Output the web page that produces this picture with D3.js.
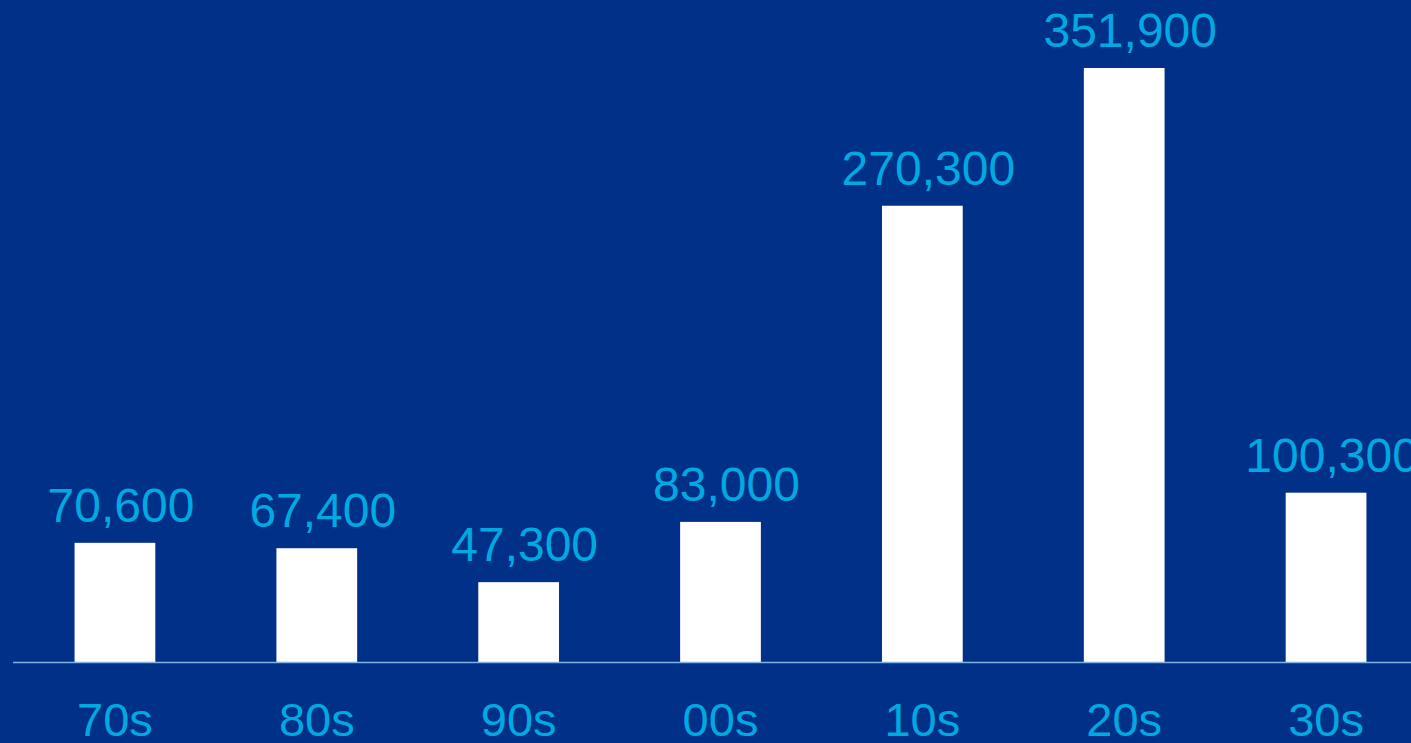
<!DOCTYPE html>
<html><head><meta charset="utf-8">
<script src="https://cdn.jsdelivr.net/npm/d3@7"></script>
<style>html,body{margin:0;padding:0;background:#003087;overflow:hidden}</style>
</head><body>
<svg id="c" width="1411" height="743"></svg>
<script>
const categories = ["70s","80s","90s","00s","10s","20s","30s"];
const values = [70600, 67400, 47300, 83000, 270300, 351900, 100300];

const W = 1411, H = 743;
const svg = d3.select("#c");
svg.append("rect").attr("width", W).attr("height", H).attr("fill", "#003087");

const x = d3.scaleBand().domain(categories).range([14, 1427]).paddingInner(0.6).paddingOuter(0.3);
const y = d3.scaleLinear().domain([0, d3.max(values)]).range([662, 68]);

const data = categories.map((c, i) => ({c, v: values[i]}));

svg.selectAll("rect.bar").data(data).join("rect").attr("class", "bar")
  .attr("x", d => x(d.c)).attr("width", x.bandwidth())
  .attr("y", d => y(d.v)).attr("height", d => y(0) - y(d.v))
  .attr("fill", "#ffffff");

const fmt = d3.format(",");
svg.selectAll("text.val").data(data).join("text").attr("class", "val")
  .attr("x", d => x(d.c) + x.bandwidth() / 2 + 6)
  .attr("y", d => y(d.v) - 21)
  .attr("text-anchor", "middle")
  .attr("font-family", "Liberation Sans, Arial, sans-serif")
  .attr("font-size", 48)
  .attr("fill", "#00a9e0")
  .text(d => fmt(d.v));

const axis = d3.axisBottom(x).tickSize(0).tickPadding(0);
const g = svg.append("g").attr("transform", `translate(0,${y(0)})`).call(axis);
g.select(".domain").attr("stroke", "#7fb2e5").attr("stroke-width", 1.6).attr("d", `M13,0.5H${W}`);
g.selectAll(".tick text")
  .attr("y", 74).attr("dy", 0)
  .attr("font-family", "Liberation Sans, Arial, sans-serif")
  .attr("font-size", 47)
  .attr("fill", "#00a9e0");
</script>
</body></html>
